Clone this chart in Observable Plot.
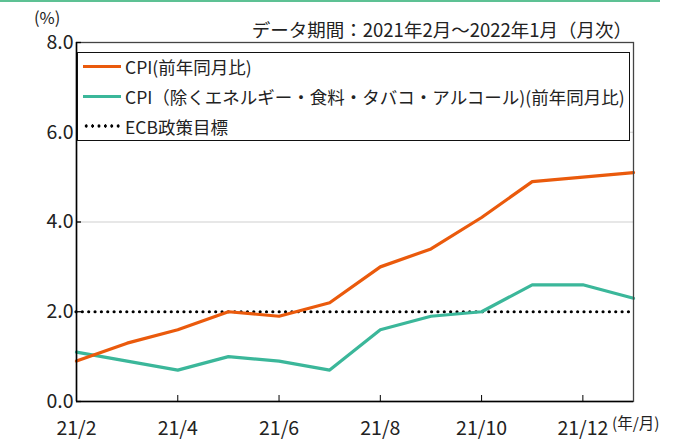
<!DOCTYPE html>
<html><head><meta charset="utf-8">
<script src="https://cdn.jsdelivr.net/npm/d3@7"></script>
<script src="https://cdn.jsdelivr.net/npm/@observablehq/plot@0.6"></script>
<style>
body{margin:0;background:#fff;font-family:"Noto Sans CJK JP","Noto Sans",sans-serif;color:#222;}
#wrap{position:relative;width:682px;height:441px;overflow:hidden;}
#topline{position:absolute;left:0;top:0;width:660px;height:2px;background:#5dc194;}
.t{position:absolute;white-space:nowrap;line-height:1;}
#title{right:50px;top:20px;font-size:18.5px;}
#unit{left:34px;top:9px;font-size:16.5px;}
#xunit{left:612px;top:415px;font-size:15.5px;}
#legend{position:absolute;left:77px;top:52px;width:553px;height:89px;border:1.5px solid #111;background:#fff;box-sizing:border-box;}
.row{position:absolute;left:5px;height:20px;display:flex;align-items:center;font-size:17.5px;}
.sw{width:38px;height:3px;margin-right:4px;flex:none;}
.dots{width:38px;height:4px;margin-right:4px;flex:none;background-image:radial-gradient(circle,#000 1.5px,transparent 1.8px);background-size:6.4px 4px;background-repeat:repeat-x;}
</style></head><body>
<div id="wrap">
<div id="topline"></div>
<div id="chart"></div>
<div class="t" id="unit">(%)</div>
<div class="t" id="title">データ期間：2021年2月～2022年1月（月次）</div>
<div class="t" id="xunit">(年/月)</div>
<div id="legend"></div>
</div>
<script>
const months = ["21/2","21/3","21/4","21/5","21/6","21/7","21/8","21/9","21/10","21/11","21/12","22/1"];
const cpi = [0.9,1.3,1.6,2.0,1.9,2.2,3.0,3.4,4.1,4.9,5.0,5.1];
const core = [1.1,0.9,0.7,1.0,0.9,0.7,1.6,1.9,2.0,2.6,2.6,2.3];
const ecbTarget = 2.0;
const seriesNames = ["CPI(前年同月比)","CPI（除くエネルギー・食料・タバコ・アルコール)(前年同月比)","ECB政策目標"];
const xTickIndex = [0,2,4,6,8,10];
const yTicks = [0,2,4,6,8];
const gridTicks = [4,6];

const ORANGE = "#ea5a0c", TEAL = "#3bb79a";
const cpiData = cpi.map((v,i)=>({i,v}));
const coreData = core.map((v,i)=>({i,v}));

const W=682,H=441,ML=76,MR=49,MT=42,MB=40;
const plot = Plot.plot({
  width:W,height:H,marginLeft:ML,marginRight:MR,marginTop:MT,marginBottom:MB,
  style:{fontFamily:'"Noto Sans CJK JP","Noto Sans",sans-serif',fontSize:"19px",color:"#222",background:"#fff"},
  x:{type:"linear",domain:[0,11]},
  y:{domain:[0,8]},
  marks:[
    Plot.gridY(gridTicks,{stroke:"#cfcfcf",strokeOpacity:1,strokeWidth:1}),
    Plot.ruleY([ecbTarget],{stroke:"#000",strokeWidth:3.2,strokeDasharray:"0,6.35",strokeLinecap:"round"}),
    Plot.line(coreData,{x:"i",y:"v",stroke:TEAL,strokeWidth:3.2}),
    Plot.line(cpiData,{x:"i",y:"v",stroke:ORANGE,strokeWidth:3.2}),
    Plot.frame({stroke:"#444",strokeWidth:1.3}),
    Plot.ruleX(xTickIndex,{stroke:"#000",strokeWidth:1,insetTop:H-MT-MB-6}),
    Plot.ruleY(yTicks,{stroke:"#000",strokeWidth:1.3,insetRight:W-ML-MR-5}),
    Plot.ruleY([0],{stroke:"#000",strokeWidth:1.5}),
    Plot.ruleX([0],{stroke:"#000",strokeWidth:1.5}),
    Plot.axisY(yTicks,{tickSize:0,tickPadding:3,tickFormat:d3.format(".1f"),label:null,fontSize:19.5}),
    Plot.axisX(xTickIndex,{tickSize:0,tickPadding:20,tickFormat:i=>months[i],label:null,fontSize:19.5})
  ]
});
document.getElementById("chart").appendChild(plot);

const legend = document.getElementById("legend");
const styles = [{c:ORANGE},{c:TEAL},{dots:true}];
seriesNames.forEach((name,k)=>{
  const row = document.createElement("div");
  row.className="row";
  row.style.top = (3+k*30)+"px";
  const sw = document.createElement("div");
  if(styles[k].dots){sw.className="dots";}
  else{sw.className="sw";sw.style.background=styles[k].c;}
  row.appendChild(sw);
  const tx=document.createElement("span");tx.textContent=name;row.appendChild(tx);
  legend.appendChild(row);
});
</script>
</body></html>
